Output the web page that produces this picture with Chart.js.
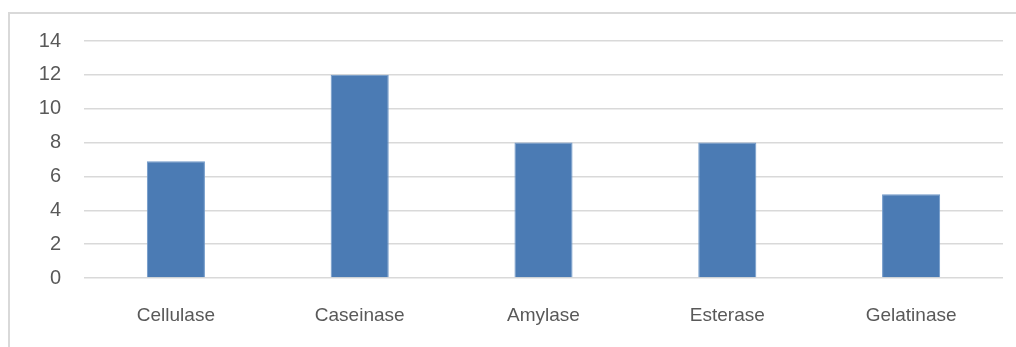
<!DOCTYPE html>
<html>
<head>
<meta charset="utf-8">
<script src="https://cdn.jsdelivr.net/npm/chart.js@4"></script>
<style>
html,body{margin:0;padding:0;background:#fff;}
#wrap{position:relative;width:1016px;height:347px;}
</style>
</head>
<body>
<div id="wrap"><canvas id="c" width="1016" height="347"></canvas></div>
<script>
const categories = ["Cellulase", "Caseinase", "Amylase", "Esterase", "Gelatinase"];
const values = [6.9, 12, 8, 8, 4.95];
const yTicks = [0, 2, 4, 6, 8, 10, 12, 14];

const framePlugin = {
  id: 'frame',
  beforeDraw(chart) {
    const ctx = chart.ctx;
    ctx.save();
    ctx.strokeStyle = '#d9d9d9';
    ctx.lineWidth = 2;
    ctx.beginPath();
    ctx.moveTo(9, 347);
    ctx.lineTo(9, 13);
    ctx.lineTo(1016, 13);
    ctx.stroke();
    ctx.restore();
  }
};

new Chart(document.getElementById('c'), {
  type: 'bar',
  data: {
    labels: categories,
    datasets: [{
      data: values,
      backgroundColor: '#4b7bb4',
      borderColor: '#7099c9',
      borderWidth: 1,
      barPercentage: 0.316,
      categoryPercentage: 1
    }]
  },
  options: {
    responsive: false,
    animation: false,
    layout: { padding: { top: 41, right: 13, left: 0, bottom: 0 } },
    plugins: { legend: { display: false }, tooltip: { enabled: false } },
    scales: {
      x: {
        grid: { display: false, drawTicks: false },
        border: { display: false },
        ticks: { color: '#595959', font: { family: 'Liberation Sans', size: 19 }, padding: 26, maxRotation: 0 },
        afterFit(scale) { scale.height = 69; }
      },
      y: {
        min: 0, max: 14,
        afterBuildTicks(scale) { scale.ticks = yTicks.map(v => ({ value: v })); },
        grid: { color: '#d9d9d9', lineWidth: 1.5, drawTicks: false },
        border: { display: false },
        ticks: { color: '#595959', font: { family: 'Liberation Sans', size: 20 }, padding: 23 },
        afterFit(scale) { scale.width = 84; }
      }
    }
  },
  plugins: [framePlugin]
});
</script>
</body>
</html>
